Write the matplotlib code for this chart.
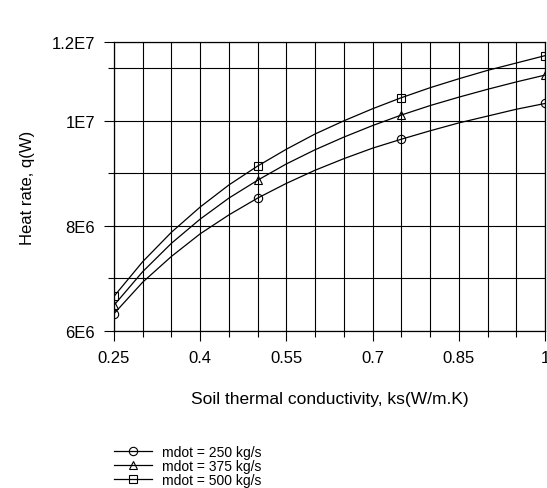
import numpy as np
import matplotlib
matplotlib.use('Agg')
import matplotlib.pyplot as plt
from matplotlib.ticker import MultipleLocator, FixedLocator

plt.rcParams['font.family'] = ['Liberation Sans', 'DejaVu Sans']

# soil thermal conductivity (W/m.K)
ks = [0.25, 0.30, 0.35, 0.40, 0.45, 0.50, 0.55, 0.60,
      0.65, 0.70, 0.75, 0.80, 0.85, 0.90, 0.95, 1.00]

# heat rate (W)
q_250 = [6.33e6, 6.93e6, 7.42e6, 7.85e6, 8.21e6, 8.53e6, 8.81e6, 9.06e6,
         9.28e6, 9.48e6, 9.65e6, 9.81e6, 9.96e6, 10.09e6, 10.22e6, 10.33e6]
q_375 = [6.49e6, 7.13e6, 7.67e6, 8.13e6, 8.53e6, 8.87e6, 9.18e6, 9.45e6,
         9.69e6, 9.91e6, 10.11e6, 10.29e6, 10.45e6, 10.60e6, 10.74e6, 10.87e6]
q_500 = [6.66e6, 7.32e6, 7.88e6, 8.36e6, 8.78e6, 9.14e6, 9.46e6, 9.75e6,
         10.00e6, 10.23e6, 10.44e6, 10.63e6, 10.80e6, 10.96e6, 11.10e6, 11.24e6]

labels = ['mdot = 250 kg/s', 'mdot = 375 kg/s', 'mdot = 500 kg/s']
markers = ['o', '^', 's']

xticks = [0.25, 0.4, 0.55, 0.7, 0.85, 1.0]
xticklabels = ['0.25', '0.4', '0.55', '0.7', '0.85', '1']
yticks = [6e6, 8e6, 1e7, 1.15e7]
yticklabels = ['6E6', '8E6', '1E7', '1.2E7']

fig = plt.figure(figsize=(5.47, 4.89), dpi=100)
ax = fig.add_axes([114/547, 1 - 332/489, 431/547, 289/489])

for q, m, lab in zip([q_250, q_375, q_500], markers, labels):
    ax.plot(ks, q, color='black', lw=0.9, marker=m, markersize=6,
            markerfacecolor='none', markeredgewidth=0.8, markevery=5, label=lab)

ax.set_xlim(0.25, 1.0)
ax.set_ylim(6e6, 1.15e7)

ax.xaxis.set_major_locator(FixedLocator(xticks))
ax.set_xticklabels(xticklabels)
ax.xaxis.set_minor_locator(MultipleLocator(0.05))
ax.yaxis.set_major_locator(FixedLocator(yticks))
ax.set_yticklabels(yticklabels)
ax.yaxis.set_minor_locator(MultipleLocator(1e6))

ax.grid(which='both', color='black', lw=0.8)
ax.tick_params(which='major', direction='out', length=7.5, width=0.8, pad=6, labelsize=12)
ax.tick_params(which='minor', direction='out', length=4.5, width=0.8)
for s in ax.spines.values():
    s.set_linewidth(0.9)

ax.set_xlabel('Soil thermal conductivity, ks(W/m.K)', fontsize=12.5, labelpad=19)
ax.set_ylabel('Heat rate, q(W)', fontsize=12, labelpad=12)

fig.legend(loc='upper left', bbox_to_anchor=(114/547, 1 - 446/489), frameon=False,
           fontsize=10, handlelength=2.7, handletextpad=0.75, labelspacing=0.0,
           borderpad=0, borderaxespad=0)

fig.savefig('out.png', dpi=100)
